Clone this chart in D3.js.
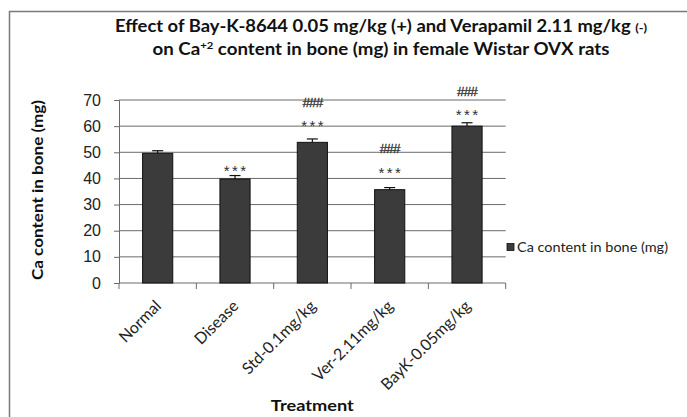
<!DOCTYPE html>
<html>
<head>
<meta charset="utf-8">
<script src="https://cdn.jsdelivr.net/npm/d3@7"></script>
<style>
  html, body { margin: 0; padding: 0; background: #fff; }
  svg { display: block; }
</style>
</head>
<body>
<svg id="chart" width="687" height="417"></svg>
<script>
// Calcium content in bone per treatment group (mean, upper SEM)
const categories = ["Normal", "Disease", "Std-0.1mg/kg", "Ver-2.11mg/kg", "BayK-0.05mg/kg"];
const values = [49.6, 39.8, 53.8, 35.7, 60.0];
const errors = [1.0, 1.3, 1.3, 0.8, 1.3];
// significance marks and the value level each one sits at
const starMarks = ["", "***", "***", "***", "***"];
const starLevels = [null, 44.6, 61.6, 43.6, 65.9];
const hashMarks = ["", "", "###", "###", "###"];
const hashLevels = [null, null, 69.2, 51.4, 73.5];
const yTicks = [0, 10, 20, 30, 40, 50, 60, 70];
const seriesName = "Ca content in bone (mg)";

const svg = d3.select("#chart");
const W = 687, H = 417;
const plot = { left: 119, right: 505.7, top: 100, bottom: 283 };
const calibri = "Lato, 'Open Sans', sans-serif";

svg.append("rect").attr("width", W).attr("height", H).attr("fill", "#fff");

// chart area frame
svg.append("rect")
  .attr("x", 9.5).attr("y", 11.5)
  .attr("width", 720).attr("height", 440)
  .attr("fill", "none").attr("stroke", "#7a7a7a").attr("stroke-width", 1.5);

const x = d3.scaleBand().domain(categories).range([plot.left, plot.right]).paddingInner(0.61).paddingOuter(0.305);
const y = d3.scaleLinear().domain([0, 70]).range([plot.bottom, plot.top]);

// horizontal gridlines
svg.append("g").selectAll("line").data(yTicks.filter(d => d > 0)).join("line")
  .attr("x1", plot.left).attr("x2", plot.right)
  .attr("y1", d => y(d)).attr("y2", d => y(d))
  .attr("stroke", "#6a6a6a").attr("stroke-width", 1);

// y axis
const yAxis = svg.append("g").attr("transform", `translate(${plot.left},0)`)
  .call(d3.axisLeft(y).tickValues(yTicks).tickSize(5).tickPadding(13));
yAxis.select(".domain").attr("stroke", "#6a6a6a").attr("stroke-width", 1);
yAxis.selectAll(".tick line").attr("stroke", "#6a6a6a");
yAxis.selectAll(".tick text")
  .attr("font-family", "'Liberation Sans', Arial, sans-serif")
  .attr("font-size", 16).attr("fill", "#222");

// x axis with ticks between categories
const xAxis = svg.append("g").attr("transform", `translate(0,${plot.bottom})`);
xAxis.append("line").attr("x1", plot.left).attr("x2", plot.right)
  .attr("stroke", "#6a6a6a").attr("stroke-width", 1);
const step = x.step();
const bounds = d3.range(categories.length + 1).map(i => plot.left + i * step);
xAxis.selectAll("line.tk").data(bounds).join("line").attr("class", "tk")
  .attr("x1", d => d).attr("x2", d => d).attr("y1", 0).attr("y2", 6)
  .attr("stroke", "#6a6a6a");
xAxis.selectAll("text").data(categories).join("text")
  .attr("transform", d => `translate(${x(d) + x.bandwidth() / 2 + 4.5},${24}) rotate(-45)`)
  .attr("text-anchor", "end")
  .attr("font-family", calibri).attr("font-size", 16).attr("fill", "#222")
  .text(d => d);

// bars
svg.append("g").selectAll("rect").data(categories).join("rect")
  .attr("x", d => x(d))
  .attr("y", (d, i) => y(values[i]))
  .attr("width", x.bandwidth())
  .attr("height", (d, i) => y(0) - y(values[i]))
  .attr("fill", "#3b3b3b").attr("stroke", "#111").attr("stroke-width", 1);

// upper error bars
const eb = svg.append("g").attr("stroke", "#111").attr("stroke-width", 1.2);
categories.forEach((c, i) => {
  const cx = x(c) + x.bandwidth() / 2;
  eb.append("line").attr("x1", cx).attr("x2", cx)
    .attr("y1", y(values[i])).attr("y2", y(values[i] + errors[i]));
  eb.append("line").attr("x1", cx - 5.5).attr("x2", cx + 5.5)
    .attr("y1", y(values[i] + errors[i])).attr("y2", y(values[i] + errors[i]));
});

// significance marks
const marks = svg.append("g").attr("font-family", "'Liberation Sans', Arial, sans-serif")
  .attr("fill", "#2e2e2e").attr("text-anchor", "middle");
categories.forEach((c, i) => {
  const cx = x(c) + x.bandwidth() / 2;
  if (starMarks[i]) {
    marks.append("text").attr("x", cx + 1.2).attr("y", y(starLevels[i]))
      .attr("dy", "0.62em").attr("font-size", 15).attr("letter-spacing", 2.4)
      .text(starMarks[i]);
  }
  if (hashMarks[i]) {
    marks.append("text").attr("x", cx).attr("y", y(hashLevels[i]))
      .attr("dy", "0.36em").attr("font-size", 13.5).attr("letter-spacing", -0.9)
      .attr("stroke", "#2e2e2e").attr("stroke-width", 0.3)
      .text(hashMarks[i]);
  }
});

// title
const title = svg.append("g").attr("font-family", calibri).attr("font-weight", "bold")
  .attr("fill", "#111").attr("text-anchor", "middle");
const t1 = title.append("text").attr("x", 381).attr("y", 31.5).attr("font-size", 16.5)
  .attr("textLength", 532).attr("lengthAdjust", "spacingAndGlyphs");
t1.append("tspan").text("Effect of Bay-K-8644 0.05 mg/kg (+) and Verapamil 2.11 mg/kg ");
t1.append("tspan").attr("font-size", 11.5).text("(-)");
const t2 = title.append("text").attr("x", 381).attr("y", 55).attr("font-size", 16.5)
  .attr("textLength", 457).attr("lengthAdjust", "spacingAndGlyphs");
t2.append("tspan").text("on Ca");
t2.append("tspan").attr("font-size", 10).attr("dy", -6).text("+2");
t2.append("tspan").attr("dy", 6).text(" content in bone (mg) in female Wistar OVX rats");

// axis titles
svg.append("text")
  .attr("transform", `translate(43,190) rotate(-90)`)
  .attr("text-anchor", "middle")
  .attr("font-family", calibri).attr("font-weight", "bold").attr("font-size", 14.5)
  .attr("fill", "#111")
  .attr("textLength", 180).attr("lengthAdjust", "spacingAndGlyphs")
  .text("Ca content in bone (mg)");
svg.append("text")
  .attr("x", (plot.left + plot.right) / 2).attr("y", 411)
  .attr("text-anchor", "middle")
  .attr("font-family", calibri).attr("font-weight", "bold").attr("font-size", 15)
  .attr("fill", "#111")
  .attr("textLength", 83).attr("lengthAdjust", "spacingAndGlyphs")
  .text("Treatment");

// legend
const lg = svg.append("g").attr("transform", "translate(507,247)");
lg.append("rect").attr("x", 0).attr("y", -3.5).attr("width", 7).attr("height", 7)
  .attr("fill", "#3b3b3b").attr("stroke", "#111").attr("stroke-width", 0.8);
lg.append("text").attr("x", 10).attr("y", 0).attr("dy", "0.35em")
  .attr("font-family", calibri).attr("font-size", 14).attr("fill", "#222")
  .attr("textLength", 151).attr("lengthAdjust", "spacingAndGlyphs")
  .text(seriesName);
</script>
</body>
</html>
